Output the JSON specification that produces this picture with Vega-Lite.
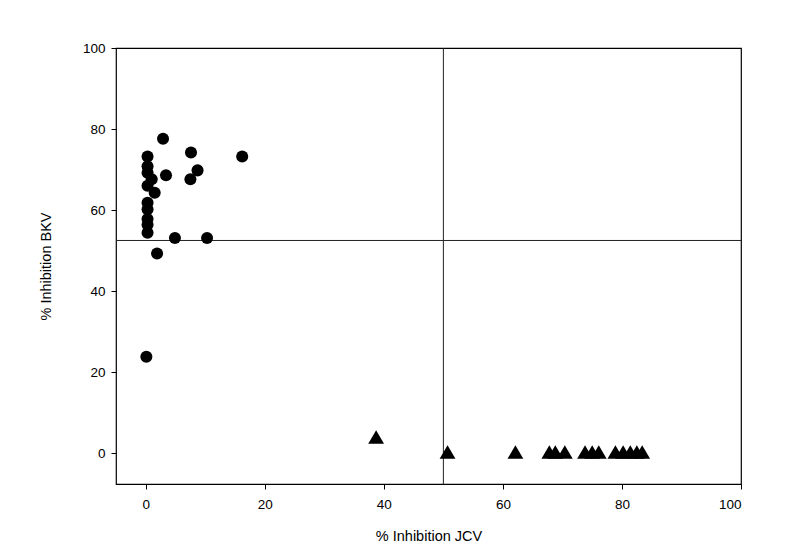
{
  "$schema": "https://vega.github.io/schema/vega-lite/v6.json",
  "width": 625,
  "height": 436,
  "autosize": "none",
  "padding": {"left": 116, "top": 48, "right": 45, "bottom": 74},
  "background": "white",
  "config": {
    "font": "Liberation Sans",
    "view": {"stroke": "black", "strokeWidth": 1.2},
    "axis": {
      "grid": false,
      "domain": false,
      "tickColor": "black",
      "tickSize": 5,
      "labelColor": "black",
      "labelFontSize": 13.5,
      "labelFont": "Liberation Sans",
      "titleColor": "black",
      "titleFont": "Liberation Sans",
      "titleFontSize": 14.5,
      "titleFontWeight": "normal"
    }
  },
  "datasets": {
    "pts": [
      {"jcv": 2.9, "bkv": 77.6, "grp": "BKV"},
      {"jcv": 0.3, "bkv": 73.2, "grp": "BKV"},
      {"jcv": 7.6, "bkv": 74.2, "grp": "BKV"},
      {"jcv": 16.2, "bkv": 73.2, "grp": "BKV"},
      {"jcv": 0.3, "bkv": 70.8, "grp": "BKV"},
      {"jcv": 8.7, "bkv": 69.8, "grp": "BKV"},
      {"jcv": 3.4, "bkv": 68.6, "grp": "BKV"},
      {"jcv": 7.5, "bkv": 67.6, "grp": "BKV"},
      {"jcv": 0.3, "bkv": 69.2, "grp": "BKV"},
      {"jcv": 1.0, "bkv": 67.6, "grp": "BKV"},
      {"jcv": 0.3, "bkv": 66.0, "grp": "BKV"},
      {"jcv": 1.5, "bkv": 64.3, "grp": "BKV"},
      {"jcv": 0.3, "bkv": 61.8, "grp": "BKV"},
      {"jcv": 0.3, "bkv": 60.2, "grp": "BKV"},
      {"jcv": 0.3, "bkv": 57.8, "grp": "BKV"},
      {"jcv": 0.3, "bkv": 56.4, "grp": "BKV"},
      {"jcv": 0.3, "bkv": 54.4, "grp": "BKV"},
      {"jcv": 4.9, "bkv": 53.1, "grp": "BKV"},
      {"jcv": 10.3, "bkv": 53.1, "grp": "BKV"},
      {"jcv": 1.9, "bkv": 49.3, "grp": "BKV"},
      {"jcv": 0.1, "bkv": 23.8, "grp": "BKV"},
      {"jcv": 38.7, "bkv": 4.0, "grp": "JCV"},
      {"jcv": 50.7, "bkv": 0.3, "grp": "JCV"},
      {"jcv": 62.1, "bkv": 0.3, "grp": "JCV"},
      {"jcv": 67.8, "bkv": 0.3, "grp": "JCV"},
      {"jcv": 68.8, "bkv": 0.3, "grp": "JCV"},
      {"jcv": 70.4, "bkv": 0.3, "grp": "JCV"},
      {"jcv": 73.8, "bkv": 0.3, "grp": "JCV"},
      {"jcv": 75.0, "bkv": 0.3, "grp": "JCV"},
      {"jcv": 76.1, "bkv": 0.3, "grp": "JCV"},
      {"jcv": 78.9, "bkv": 0.3, "grp": "JCV"},
      {"jcv": 80.2, "bkv": 0.3, "grp": "JCV"},
      {"jcv": 81.4, "bkv": 0.3, "grp": "JCV"},
      {"jcv": 82.5, "bkv": 0.3, "grp": "JCV"},
      {"jcv": 83.4, "bkv": 0.3, "grp": "JCV"}
    ],
    "refs": [{"xref": 50, "yref": 52.5}]
  },
  "layer": [
    {
      "data": {"name": "refs"},
      "mark": {"type": "rule", "color": "#222", "strokeWidth": 1},
      "encoding": {"y": {"field": "yref", "type": "quantitative"}}
    },
    {
      "data": {"name": "refs"},
      "mark": {"type": "rule", "color": "#222", "strokeWidth": 1},
      "encoding": {"x": {"field": "xref", "type": "quantitative"}}
    },
    {
      "data": {"name": "pts"},
      "transform": [{"filter": "datum.grp == 'BKV'"}],
      "mark": {"type": "point", "filled": true, "opacity": 1, "color": "black", "size": 145, "shape": "circle"},
      "encoding": {
        "x": {
          "field": "jcv", "type": "quantitative",
          "scale": {"domain": [-5, 100], "nice": false, "zero": false},
          "axis": {"values": [0, 20, 40, 60, 80, 100], "title": "% Inhibition JCV", "labelPadding": 8, "titlePadding": 19}
        },
        "y": {
          "field": "bkv", "type": "quantitative",
          "scale": {"domain": [-7.6, 100], "nice": false, "zero": false},
          "axis": {"values": [0, 20, 40, 60, 80, 100], "title": "% Inhibition BKV", "labelPadding": 6, "titlePadding": 29}
        }
      }
    },
    {
      "data": {"name": "pts"},
      "transform": [{"filter": "datum.grp == 'JCV'"}],
      "mark": {"type": "point", "filled": true, "opacity": 1, "color": "black", "size": 250, "shape": "triangle-up"},
      "encoding": {
        "x": {"field": "jcv", "type": "quantitative"},
        "y": {"field": "bkv", "type": "quantitative"}
      }
    }
  ]
}
